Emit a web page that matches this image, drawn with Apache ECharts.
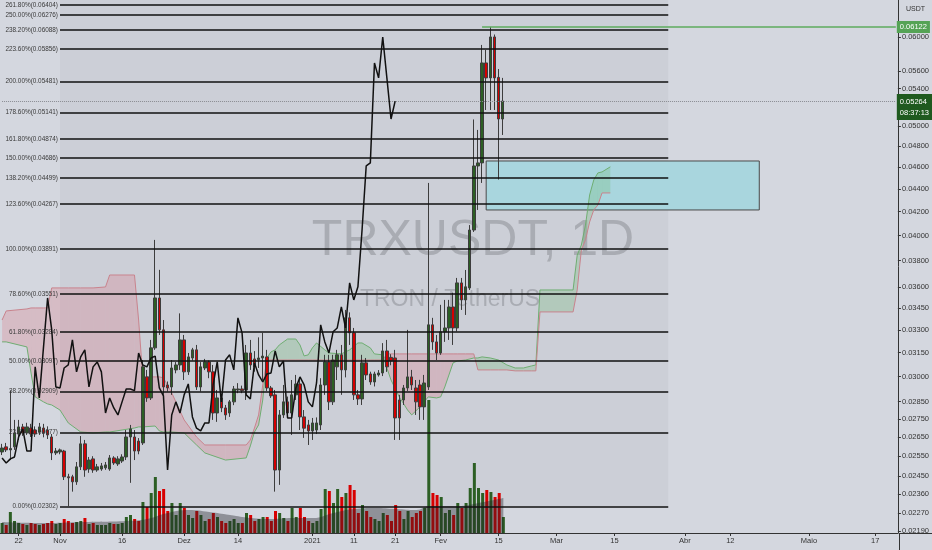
<!DOCTYPE html>
<html><head><meta charset="utf-8">
<script src="https://cdn.jsdelivr.net/npm/echarts@6/dist/echarts.min.js"></script>
<style>html,body{margin:0;padding:0;background:#d4d7df}#c{width:932px;height:550px}</style>
</head><body><div id="c"></div><script>
// ---- axis domain ----
const startDate = '2020-10-18';
const dayCount = 217;
const tickDates = ['2020-10-22','2020-11-01','2020-11-16','2020-12-01','2020-12-14','2021-01-01','2021-01-11','2021-01-21','2021-02-01','2021-02-15','2021-03-01','2021-03-15','2021-04-01','2021-04-12','2021-05-01','2021-05-17'];
const tickLabels = ['22','Nov','16','Dez','14','2021','11','21','Fev','15','Mar','15','Abr','12','Maio','17'];
const priceTicks = [0.06,0.056,0.054,0.05,0.048,0.046,0.044,0.042,0.04,0.038,0.036,0.0345,0.033,0.0315,0.03,0.0285,0.0275,0.0265,0.0255,0.0245,0.0236,0.0227,0.0219];
const priceMin = 0.0218, priceMax = 0.0647;

// ---- candles (TRXUSDT daily) ----
const open = [0.02572,0.02599,0.02583,0.02599,0.02668,0.02707,0.02674,0.02701,0.0269,0.02679,
0.02701,0.0269,0.02652,0.02567,0.02572,0.02577,0.02445,0.02445,0.0242,0.02495,
0.02615,0.02484,0.02536,0.02479,0.02484,0.0249,0.02484,0.02541,0.0251,0.02525,
0.02546,0.02652,0.02652,0.0263,0.0262,0.02998,0.02872,0.03181,0.03522,0.033,
0.02949,0.02937,0.03041,0.03072,0.03233,0.03029,0.03116,0.03168,0.02937,0.03053,
0.03091,0.03029,0.02785,0.02872,0.02814,0.02785,0.02849,0.02919,0.02925,0.02919,
0.03148,0.0311,0.03105,0.03116,0.03123,0.02931,0.0289,0.02479,0.02774,0.02849,
0.02785,0.0289,0.02955,0.02763,0.02718,0.02685,0.0269,0.02718,0.02949,0.03091,
0.02849,0.0306,0.03136,0.03041,0.03382,0.0328,0.0289,0.02866,0.03085,0.03016,
0.02967,0.0301,0.03022,0.03161,0.0312,0.03116,0.0286,0.0286,0.02931,0.02998,
0.02931,0.02949,0.0282,0.02937,0.03334,0.0322,0.03148,0.03287,0.03313,0.03458,
0.03313,0.03632,0.03508,0.03595,0.04046,0.04611,0.0464,0.0569,0.05519,0.06,
0.05525,0.05075];
const high = [0.02615,0.0262,0.02916,0.02746,0.02746,0.02724,0.0273,0.02724,0.0271,0.02729,
0.02724,0.0271,0.02668,0.02593,0.0259,0.02583,0.0246,0.02455,0.0252,0.02657,
0.02636,0.02546,0.0255,0.0251,0.02515,0.0252,0.02556,0.0255,0.0255,0.0256,
0.0269,0.02718,0.0269,0.02646,0.03103,0.03041,0.03233,0.03965,0.0373,0.03367,
0.0297,0.03103,0.0309,0.03413,0.03266,0.03148,0.03181,0.032,0.0309,0.0311,
0.031,0.03072,0.02919,0.0289,0.02831,0.0286,0.02943,0.0296,0.02945,0.032,
0.03233,0.0316,0.0325,0.0328,0.03168,0.02943,0.02919,0.02802,0.02949,0.0288,
0.02979,0.0301,0.0299,0.02802,0.02746,0.02757,0.0276,0.0299,0.03136,0.03136,
0.03136,0.03168,0.032,0.03437,0.0342,0.03313,0.02919,0.03136,0.03116,0.0303,
0.0303,0.0304,0.03212,0.03233,0.0314,0.03168,0.0289,0.02949,0.033,0.03041,
0.02979,0.0298,0.0301,0.04454,0.03382,0.03266,0.03473,0.03508,0.03508,0.0356,
0.03669,0.03669,0.03729,0.04087,0.0507,0.04963,0.05903,0.05843,0.06124,0.0603,
0.0562,0.05519];
const low = [0.02556,0.02572,0.0253,0.02583,0.02636,0.02658,0.02663,0.02652,0.02652,0.02663,
0.0265,0.02641,0.0253,0.02556,0.0256,0.02429,0.02303,0.02372,0.02405,0.02479,
0.02445,0.02465,0.02465,0.0247,0.02475,0.0248,0.02475,0.02505,0.025,0.02515,
0.0253,0.02415,0.0253,0.0256,0.02609,0.02849,0.0286,0.03168,0.03266,0.0289,
0.0291,0.0289,0.0302,0.03041,0.02979,0.0301,0.031,0.02919,0.0291,0.0304,
0.0299,0.02746,0.02735,0.0279,0.02746,0.02763,0.0283,0.029,0.029,0.0286,
0.03041,0.0303,0.03053,0.02979,0.02913,0.02872,0.02372,0.02405,0.02757,0.0276,
0.02663,0.0286,0.0269,0.02647,0.02609,0.02636,0.02668,0.0269,0.0289,0.02802,
0.02831,0.02979,0.0289,0.02995,0.032,0.0286,0.02831,0.02831,0.02979,0.0295,
0.0294,0.03,0.03003,0.03029,0.0307,0.02636,0.02636,0.02831,0.02913,0.02919,
0.02774,0.02746,0.02746,0.02919,0.03168,0.03103,0.03136,0.0322,0.03233,0.032,
0.0329,0.03437,0.03402,0.0358,0.0403,0.04215,0.04454,0.05169,0.05169,0.05169,
0.04485,0.04912];
const close = [0.02593,0.02583,0.0259,0.02674,0.02707,0.02674,0.02707,0.02668,0.02668,0.02707,
0.02674,0.02663,0.02567,0.02577,0.02583,0.02445,0.0244,0.0242,0.02495,0.02615,
0.02479,0.0253,0.02479,0.02495,0.025,0.02505,0.02541,0.02515,0.02536,0.02546,
0.02652,0.02696,0.02577,0.02577,0.0306,0.02872,0.03181,0.03522,0.033,0.02937,
0.02931,0.03053,0.03072,0.03233,0.03029,0.03123,0.03168,0.02937,0.0306,0.03091,
0.03029,0.02785,0.02872,0.02814,0.02774,0.02849,0.02925,0.02925,0.02915,0.03148,
0.03072,0.0306,0.03116,0.03128,0.02931,0.02884,0.02479,0.02774,0.02849,0.02785,
0.0289,0.02955,0.02763,0.027,0.02685,0.02729,0.02729,0.02949,0.03091,0.02849,
0.03103,0.03136,0.03041,0.03382,0.0328,0.0289,0.02866,0.03085,0.0301,0.02967,
0.03016,0.03022,0.03161,0.0306,0.03097,0.02757,0.02757,0.02931,0.02998,0.02949,
0.02849,0.0282,0.02961,0.03334,0.0322,0.03148,0.03287,0.03313,0.03458,0.03313,
0.03632,0.03508,0.03603,0.04046,0.04611,0.0464,0.0569,0.05519,0.06,0.05519,
0.05075,0.05264];
const volume = [10,8,21,12,10,9,8,10,9,8,
9,10,12,9,10,14,12,10,11,12,
15,9,10,8,8,8,10,9,9,10,
16,18,14,12,31,26,40,56,42,44,
22,30,18,30,25,18,15,22,18,12,
14,20,16,12,10,12,14,10,10,20,
18,12,14,16,16,12,22,20,15,12,
25,16,25,16,12,10,12,24,44,42,
30,44,36,40,48,43,20,28,22,16,
14,12,20,18,12,28,22,14,22,16,
20,22,25,133,40,38,36,20,23,18,
30,25,30,45,70,45,40,43,41,36,
40,16];
const volMaIdx = [0,10,20,30,35,40,45,50,55,60,65,70,75,80,85,90,95,100,103,106,110,115,121];
const volMa =    [11,10,11,12,14,20,23,21,18,15,14,15,15,20,24,25,24,23,27,27,27,30,35];

// ---- Ichimoku cloud (read points) ----
const cloudIdx = [0,1,6,7,8,10,11,12,14,16,19,22,25,26,32,33,34,37,38,39,41,44,47,49,54,59,60,61,62,63,64,65,66,67,69,71,72,73,74,75,76,78,79,82,84,86,87,89,90,92,93,94,96,98,99,101,103,105,106,107,109,110,112,114,115,116,118,120,122,124,126,128,129,130,138,139,140,141,142,143,144,145,147];
const spanA = [0.0322,0.0322,0.03187,0.03022,0.02878,0.02849,0.02837,0.02831,0.02802,0.02729,0.02679,0.02674,0.02679,0.02679,0.02701,0.02707,0.02707,0.02712,0.02685,0.02679,0.02679,0.02674,0.02609,0.02567,0.0253,0.02541,0.02604,0.02679,0.02718,0.0286,0.03116,0.03155,0.03168,0.032,0.03239,0.03239,0.032,0.03129,0.03136,0.03181,0.03213,0.03168,0.03148,0.03142,0.03168,0.03213,0.03213,0.03181,0.03142,0.03136,0.03053,0.02979,0.02878,0.02802,0.02774,0.0282,0.02878,0.02872,0.02878,0.02937,0.03085,0.03097,0.03103,0.03116,0.03116,0.03123,0.03116,0.03103,0.03072,0.03053,0.03053,0.03066,0.03072,0.0358,0.0358,0.03844,0.03924,0.04087,0.04346,0.04481,0.04546,0.04555,0.04603];
const spanB = [0.03367,0.0343,0.03444,0.03451,0.03451,0.03451,0.03451,0.03595,0.03595,0.03595,0.03595,0.03595,0.03602,0.03691,0.03691,0.03367,0.02998,0.02998,0.02998,0.02992,0.02902,0.02746,0.02652,0.02609,0.02609,0.02609,0.02636,0.02701,0.02774,0.02949,0.03103,0.03103,0.03103,0.03103,0.03103,0.03103,0.03103,0.03103,0.03103,0.03103,0.03103,0.03103,0.03103,0.03103,0.03103,0.03103,0.03103,0.03103,0.03103,0.03103,0.03142,0.03142,0.03142,0.03142,0.03142,0.03142,0.03142,0.03142,0.03142,0.03142,0.03142,0.03142,0.03142,0.03142,0.03041,0.03041,0.03041,0.03041,0.03041,0.03035,0.03035,0.03035,0.03035,0.03423,0.03423,0.0358,0.03884,0.03965,0.04113,0.04215,0.04258,0.04364,0.04364];
const chikouShift = 26;

// ---- drawings ----
const fibPct = ['261.80%','250.00%','238.20%','223.60%','200.00%','178.60%','161.80%','150.00%','138.20%','123.60%','100.00%','78.60%','61.80%','50.00%','38.20%','23.60%','0.00%'];
const fibVal = [0.06404,0.06276,0.06088,0.05856,0.05481,0.05141,0.04874,0.04686,0.04499,0.04267,0.03891,0.03551,0.03284,0.03097,0.02909,0.02677,0.02302];
const fibRange = ['2020-11-01','2021-03-28'];
const zoneDates = ['2021-02-12','2021-04-19'];
const zonePrices = [0.04658,0.04215];
const highLineDate = '2021-02-11';
const highLinePrice = 0.06122;
const lastPrice = 0.05264;
const lastLabel = '08:37:13';

// ---- build ----
const dates = [];
const t0 = Date.parse(startDate + 'T00:00:00Z');
for (let k = 0; k < dayCount; k++) dates.push(new Date(t0 + k * 86400000).toISOString().slice(0, 10));
const tickSet = {}; tickDates.forEach((d, k) => tickSet[d] = tickLabels[k]);
const candles = open.map((o, k) => [o, close[k], low[k], high[k]]);
const volData = volume.map((v, k) => ({value: v, itemStyle: {color: close[k] >= open[k] ? '#2c5f24' : '#d80000'}}));
const chikou = close.slice(chikouShift).map((c, k) => [k, c]);
const cloudSegs = [];
for (let k = 0; k < cloudIdx.length - 1; k++) cloudSegs.push([cloudIdx[k], spanA[k], spanB[k], cloudIdx[k + 1], spanA[k + 1], spanB[k + 1]]);
const lastIdx = dates.length - 1;
const FONT = 'Liberation Sans';

const fibLines = fibVal.map((v, k) => [
  {coord: [fibRange[0], v], label: {formatter: fibPct[k] + '(' + v.toFixed(5) + ')'}},
  {coord: [fibRange[1], v]}
]);

const chart = echarts.init(document.getElementById('c'), null, {renderer: 'canvas'});
chart.setOption({
  animation: false,
  backgroundColor: '#d4d7df',
  textStyle: {fontFamily: FONT},
  graphic: [
    {type: 'text', z: 0, style: {text: 'TRXUSDT, 1D', x: 473, y: 241, align: 'center', verticalAlign: 'middle', fontSize: 50, fontFamily: FONT, fill: 'rgba(110,112,118,0.35)'}},
    {type: 'text', z: 0, style: {text: 'TRON / TetherUS', x: 450, y: 300, align: 'center', verticalAlign: 'middle', fontSize: 23, fontFamily: FONT, fill: 'rgba(110,112,118,0.35)'}},
    {type: 'text', z: 10, style: {text: 'USDT', x: 906, y: 9, align: 'left', verticalAlign: 'middle', fontSize: 7, fontFamily: FONT, fill: '#333'}},
    {type: 'line', z: 10, silent: true, shape: {x1: 899, y1: 533.5, x2: 932, y2: 533.5}, style: {stroke: '#333', lineWidth: 1}},
    {type: 'line', z: 10, silent: true, shape: {x1: 899.5, y1: 533, x2: 899.5, y2: 550}, style: {stroke: '#333', lineWidth: 1}}
  ],
  grid: [
    {left: 0, right: 33, top: 0, bottom: 17},
    {left: 0, right: 33, top: 400, bottom: 17}
  ],
  xAxis: [
    {type: 'category', data: dates, gridIndex: 0, boundaryGap: true,
      axisLine: {show: true, lineStyle: {color: '#333', width: 1}},
      axisTick: {show: true, alignWithLabel: true, length: 3, interval: (i, v) => v in tickSet, lineStyle: {color: '#333'}},
      axisLabel: {show: true, interval: (i, v) => v in tickSet, formatter: v => tickSet[v] || '', fontSize: 7.5, color: '#333', margin: 4, fontFamily: FONT},
      splitLine: {show: false}},
    {type: 'category', data: dates, gridIndex: 1, boundaryGap: true, show: false}
  ],
  yAxis: [
    {type: 'log', logBase: 10, gridIndex: 0, position: 'right', min: priceMin, max: priceMax,
      axisLine: {show: true, lineStyle: {color: '#333', width: 1}},
      axisTick: {show: true, length: 3, customValues: priceTicks, lineStyle: {color: '#333'}},
      axisLabel: {show: true, customValues: priceTicks, formatter: v => Number(v).toFixed(5), fontSize: 7.5, color: '#333', margin: 4, fontFamily: FONT},
      splitLine: {show: false}},
    {type: 'value', gridIndex: 1, min: 0, max: 133, show: false, splitLine: {show: false}}
  ],
  series: [
    {name: 'cloudFill', type: 'custom', xAxisIndex: 0, yAxisIndex: 0, z: 1, silent: true, clip: true,
      encode: {x: [0, 3], y: [1, 2, 4, 5]},
      data: cloudSegs,
      renderItem: (params, api) => {
        const x0 = api.value(0), a0 = api.value(1), b0 = api.value(2), x1 = api.value(3), a1 = api.value(4), b1 = api.value(5);
        const pts = [api.coord([x0, a0]), api.coord([x1, a1]), api.coord([x1, b1]), api.coord([x0, b0])];
        const bull = a0 + a1 >= b0 + b1;
        return {type: 'polygon', shape: {points: pts}, style: {fill: bull ? 'rgba(110,185,115,0.28)' : 'rgba(220,125,140,0.30)', stroke: null}};
      },
      markArea: {silent: true, data: [
        [{coord: [fibRange[0], fibVal[fibVal.length - 1]], itemStyle: {color: 'rgba(0,0,10,0.035)'}}, {coord: [fibRange[1], priceMax]}],
        [{coord: [zoneDates[0], zonePrices[0]], itemStyle: {color: '#a9d6de', borderColor: '#4a4a4a', borderWidth: 1}}, {coord: [zoneDates[1], zonePrices[1]]}]
      ]}},
    {name: 'Senkou A', type: 'line', xAxisIndex: 0, yAxisIndex: 0, z: 2, silent: true, showSymbol: false,
      data: cloudIdx.map((x, k) => [x, spanA[k]]), lineStyle: {color: '#6fae72', width: 1}},
    {name: 'Senkou B', type: 'line', xAxisIndex: 0, yAxisIndex: 0, z: 2, silent: true, showSymbol: false,
      data: cloudIdx.map((x, k) => [x, spanB[k]]), lineStyle: {color: '#c9838d', width: 1}},
    {name: 'Volume', type: 'bar', xAxisIndex: 1, yAxisIndex: 1, z: 2, barWidth: 3, data: volData},
    {name: 'Volume MA', type: 'line', xAxisIndex: 1, yAxisIndex: 1, z: 3, smooth: true, showSymbol: false,
      data: volMaIdx.map((x, k) => [x, volMa[k]]), lineStyle: {width: 0}, areaStyle: {color: 'rgba(35,35,38,0.55)'}},
    {name: 'TRXUSDT', type: 'candlestick', xAxisIndex: 0, yAxisIndex: 0, z: 4, barWidth: 3,
      data: candles,
      itemStyle: {color: '#2c5f24', color0: '#d40000', borderColor: '#3d3d3d', borderColor0: '#3d3d3d', borderWidth: 1}},
    {name: 'Chikou', type: 'line', xAxisIndex: 0, yAxisIndex: 0, z: 5, silent: true, showSymbol: false,
      data: chikou, lineStyle: {color: '#111', width: 1.5},
      markLine: {silent: true, symbol: 'none', animation: false,
        lineStyle: {color: '#111', width: 1.5, type: 'solid'},
        label: {position: 'start', distance: 2, fontSize: 6.4, color: '#3a3a3a', fontFamily: FONT},
        data: fibLines.concat([
          [{coord: [highLineDate, highLinePrice], lineStyle: {color: '#5eab5e', width: 1.5},
            label: {position: 'end', formatter: highLinePrice.toFixed(5), backgroundColor: '#55a355', color: '#fff', padding: [2, 3], distance: 1, fontSize: 7.5}},
           {coord: [dates[lastIdx], highLinePrice]}],
          [{coord: [dates[0], lastPrice], lineStyle: {color: '#8a8c92', width: 1, type: 'dotted'},
            label: {position: 'end', formatter: lastPrice.toFixed(5) + '\n' + lastLabel, backgroundColor: '#1f5a1f', color: '#fff', padding: [2, 3], lineHeight: 11, distance: 1, fontSize: 7.5, offset: [0, 6]}},
           {coord: [dates[lastIdx], lastPrice]}]
        ])}}
  ]
});
</script></body></html>
